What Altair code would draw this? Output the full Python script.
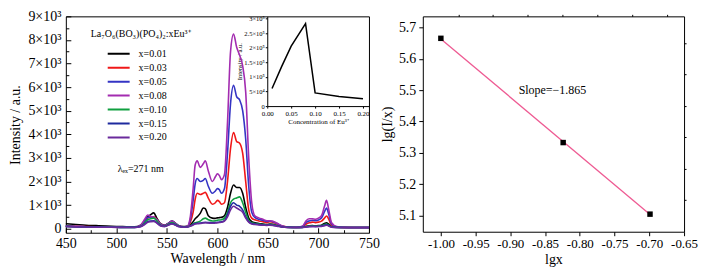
import altair as alt
import pandas as pd

SERIF = "Liberation Serif"

# ---------------- data ----------------
wavelength = [450, 460, 470, 480, 490, 500, 510,
              518, 524, 528, 531, 534, 537, 540,
              544, 548, 552, 555, 558, 562, 566, 570,
              573, 576, 578, 580, 583, 586, 588, 591,
              595, 598, 600, 602, 604, 607, 610, 613,
              616, 619, 622, 625, 628, 631, 634, 637,
              641, 645, 649, 652, 655, 659, 664, 670,
              678, 684, 688, 691, 694, 697, 700, 703,
              706, 708, 710, 713, 718, 725, 735, 750]

int_x001 = [210, 180, 150, 130, 110, 95, 85,
            80, 150, 350, 500, 600, 670, 450,
            200, 150, 250, 330, 250, 120, 90, 100,
            150, 300, 420, 500, 650, 880, 850, 550,
            450, 440, 460, 470, 480, 550, 900, 1500,
            1850, 1750, 1750, 1500, 900, 450, 300, 250,
            220, 200, 180, 200, 190, 140, 90, 60,
            50, 60, 100, 120, 130, 120, 130, 150,
            220, 250, 200, 100, 60, 50, 50, 50]

int_x003 = [120, 100, 90, 80, 70, 65, 60,
            60, 120, 300, 450, 480, 500, 400,
            180, 130, 230, 300, 230, 110, 80, 90,
            250, 700, 1250, 1500, 1450, 1500, 1540, 1300,
            1040, 1100, 1200, 1150, 1040, 1100, 2000, 3400,
            4080, 3700, 3625, 3200, 2000, 800, 450, 380,
            330, 300, 260, 300, 280, 200, 110, 70,
            60, 80, 200, 250, 280, 260, 280, 320,
            450, 540, 420, 150, 70, 55, 50, 50]

int_x005 = [110, 95, 85, 75, 70, 65, 60,
            60, 130, 320, 480, 500, 480, 380,
            180, 130, 240, 310, 240, 110, 80, 90,
            350, 1200, 1900, 2125, 2000, 2050, 2125, 1800,
            1500, 1600, 1700, 1650, 1500, 1700, 3200, 5300,
            6080, 5600, 5460, 5000, 3800, 1800, 700, 480,
            400, 360, 310, 330, 300, 220, 120, 70,
            60, 90, 280, 330, 360, 340, 370, 450,
            720, 875, 650, 200, 80, 60, 50, 50]

int_x008 = [110, 95, 85, 75, 70, 65, 60,
            60, 150, 400, 580, 520, 500, 380,
            180, 130, 240, 320, 240, 110, 80, 90,
            450, 1700, 2700, 2875, 2600, 2750, 2875, 2450,
            2000, 2200, 2330, 2250, 2080, 2300, 4500, 7500,
            8250, 7700, 7350, 6900, 5800, 3000, 1100, 550,
            460, 400, 340, 340, 320, 230, 120, 70,
            60, 100, 350, 420, 420, 400, 450, 550,
            950, 1200, 850, 250, 90, 60, 50, 50]

int_x010 = [100, 85, 75, 70, 65, 60, 55,
            55, 100, 250, 380, 420, 450, 330,
            150, 110, 200, 260, 200, 100, 75, 80,
            120, 200, 250, 270, 320, 420, 450, 380,
            330, 340, 360, 370, 380, 450, 700, 1100,
            1250, 1300, 1350, 1100, 700, 350, 250, 220,
            200, 180, 160, 180, 170, 130, 80, 55,
            50, 55, 90, 110, 120, 110, 120, 130,
            180, 200, 160, 80, 55, 50, 50, 50]

int_x015 = [100, 85, 75, 70, 65, 60, 55,
            55, 90, 200, 300, 330, 340, 260,
            130, 100, 170, 220, 170, 90, 70, 75,
            110, 180, 220, 230, 240, 260, 270, 260,
            250, 260, 270, 280, 290, 350, 600, 950,
            1100, 1000, 950, 800, 500, 300, 220, 200,
            180, 160, 150, 160, 150, 120, 75, 55,
            50, 55, 80, 95, 100, 95, 100, 110,
            150, 170, 140, 70, 55, 50, 50, 50]

int_x020 = [95, 80, 72, 68, 62, 58, 52,
            52, 85, 180, 270, 300, 310, 240,
            120, 95, 160, 200, 160, 85, 65, 70,
            100, 160, 200, 210, 220, 240, 250, 240,
            230, 240, 250, 260, 270, 320, 500, 800,
            950, 880, 800, 700, 450, 280, 200, 180,
            160, 150, 140, 150, 140, 110, 70, 50,
            45, 50, 75, 90, 95, 90, 95, 100,
            130, 150, 120, 65, 50, 45, 45, 45]

series_labels = ["x=0.01", "x=0.03", "x=0.05", "x=0.08", "x=0.10", "x=0.15", "x=0.20"]
series_values = [int_x001, int_x003, int_x005, int_x008, int_x010, int_x015, int_x020]
series_colors = ["#000000", "#f01818", "#3434c4", "#a32cb0", "#10a040", "#1e2a9e", "#6a2a9c"]

inset_conc = [0.01, 0.03, 0.05, 0.08, 0.10, 0.15, 0.20]
inset_intensity = [60000, 135000, 205000, 282000, 45000, 33000, 25000]

lg_x = [-1.000, -0.824, -0.699]
lg_ix = [5.665, 5.333, 5.105]
fit_lgx = [-1.000, -0.699]
fit_lgix = [5.663, 5.104]

# tick values
x_major = [450, 500, 550, 600, 650, 700, 750]
x_minor = [475, 525, 575, 625, 675, 725]
y_major = [0, 1000, 2000, 3000, 4000, 5000, 6000, 7000, 8000, 9000]
y_minor = [500, 1500, 2500, 3500, 4500, 5500, 6500, 7500, 8500]
inset_x_ticks = [0.0, 0.05, 0.10, 0.15, 0.20]
inset_y_ticks = [0, 50000, 100000, 150000, 200000, 250000, 300000]
rx_major = [-1.00, -0.95, -0.90, -0.85, -0.80, -0.75, -0.70, -0.65]
rx_minor = [-0.975, -0.925, -0.875, -0.825, -0.775, -0.725, -0.675]
ry_major = [5.1, 5.2, 5.3, 5.4, 5.5, 5.6, 5.7]
ry_minor = [5.15, 5.25, 5.35, 5.45, 5.55, 5.65]

# ---------------- tables ----------------
rows = []
for lab, vals in zip(series_labels, series_values):
    for w, v in zip(wavelength, vals):
        rows.append({"wavelength": w, "intensity": v, "sample": lab})
spec_df = pd.DataFrame(rows)
inset_df = pd.DataFrame({"conc": inset_conc, "inten": inset_intensity})
lg_df = pd.DataFrame({"lgx": lg_x, "lgI": lg_ix})
fit_df = pd.DataFrame({"lgx": fit_lgx, "lgI": fit_lgix})

W1, H1 = 304, 217
W2, H2 = 262, 216

x_main = alt.Scale(domain=[450, 750], nice=False, zero=False)
y_main = alt.Scale(domain=[-170, 9000], nice=False, zero=False)

lines = alt.Chart(spec_df).mark_line(strokeWidth=1.6, interpolate="monotone").encode(
    x=alt.X("wavelength:Q", scale=x_main,
            axis=alt.Axis(values=x_major, title="Wavelength / nm", labelFontSize=14,
                          titleFontSize=14, tickSize=0, labelPadding=4, titlePadding=1,
                          domain=False, labelOverlap=False, labelFlush=False)),
    y=alt.Y("intensity:Q", scale=y_main,
            axis=alt.Axis(values=y_major,
                          labelExpr="datum.value == 0 ? '0' : (datum.value / 1000) + '×10³'",
                          title="Intensity / a.u.", labelFontSize=14, titleFontSize=14,
                          tickSize=0, labelPadding=5, titlePadding=5, domain=False,
                          labelOverlap=False)),
    color=alt.Color("sample:N", sort=series_labels,
                    scale=alt.Scale(domain=series_labels, range=series_colors),
                    legend=alt.Legend(title=None, orient="none", legendX=41, legendY=31,
                                      symbolType="stroke", symbolSize=484,
                                      symbolStrokeWidth=2, labelFontSize=10,
                                      labelFont=SERIF, labelOffset=8, rowPadding=1,
                                      clipHeight=13)),
)

tick_major = alt.Chart(spec_df).mark_point(opacity=0).encode(
    x=alt.X("wavelength:Q", scale=x_main,
            axis=alt.Axis(orient="top", offset=-H1, values=x_major, labels=False,
                          tickSize=5, domain=False, title=None)),
    y=alt.Y("intensity:Q", scale=y_main,
            axis=alt.Axis(orient="right", offset=-W1, values=y_major, labels=False,
                          tickSize=5, domain=False, title=None)),
)
tick_minor = alt.Chart(spec_df).mark_point(opacity=0).encode(
    x=alt.X("wavelength:Q", scale=x_main,
            axis=alt.Axis(orient="top", offset=-H1, values=x_minor, labels=False,
                          tickSize=3, domain=False, title=None)),
    y=alt.Y("intensity:Q", scale=y_main,
            axis=alt.Axis(orient="right", offset=-W1, values=y_minor, labels=False,
                          tickSize=3, domain=False, title=None)),
)

inset = alt.Chart(inset_df).mark_line(color="black", strokeWidth=1.5).encode(
    x=alt.X("conc:Q", scale=alt.Scale(domain=[0, 0.2125], range=[202, W1], nice=False, zero=False),
            axis=alt.Axis(orient="bottom", offset=-127, values=inset_x_ticks, format=".2f",
                          title="Concentration of Eu³⁺", labelFontSize=7, titleFontSize=7,
                          tickSize=2, labelPadding=1, titlePadding=1, domain=True,
                          domainColor="black", labelOverlap=False, labelFlush=False)),
    y=alt.Y("inten:Q", scale=alt.Scale(domain=[0, 307000], range=[90, 0], nice=False, zero=False),
            axis=alt.Axis(orient="left", offset=-202, values=inset_y_ticks,
                          labelExpr="datum.value == 0 ? '0' : (datum.value < 100000 ? (datum.value / 10000) + '×10⁴' : (datum.value / 100000) + '×10⁵')",
                          title="Intensity / a.u.", labelFontSize=6.5, titleFontSize=6.5,
                          tickSize=2, labelPadding=1, titlePadding=1, domain=True,
                          domainColor="black", labelOverlap=False)),
)

legend_title = alt.Chart(pd.DataFrame({"t": ["La₇O₆(BO₃)(PO₄)₂:xEu³⁺"]})).mark_text(
    align="left", baseline="middle", fontSize=10, font=SERIF, color="black"
).encode(text="t:N", x=alt.value(25), y=alt.value(18))

lambda_text = alt.Chart(pd.DataFrame({"t": ["λₑₓ=271 nm"]})).mark_text(
    align="left", baseline="middle", fontSize=10, font=SERIF, color="black"
).encode(text="t:N", x=alt.value(52), y=alt.value(153))

left = alt.layer(lines, tick_major, tick_minor, inset, legend_title, lambda_text).resolve_scale(
    x="independent", y="independent"
).properties(width=W1, height=H1)

x_r = alt.Scale(domain=[-1.026, -0.65], nice=False, zero=False)
y_r = alt.Scale(domain=[5.049, 5.735], nice=False, zero=False)

fit = alt.Chart(fit_df).mark_line(color="#ee5b93", strokeWidth=1.3).encode(
    x=alt.X("lgx:Q", scale=x_r,
            axis=alt.Axis(values=rx_major,
                          labelExpr="replace(format(datum.value, '.2f'), '−', '-')",
                          title="lgx", labelFontSize=13, titleFontSize=14, tickSize=4,
                          labelPadding=2, titlePadding=2, domain=False, labelOverlap=False,
                          labelFlush=False)),
    y=alt.Y("lgI:Q", scale=y_r,
            axis=alt.Axis(values=ry_major, format=".1f", title="lg(I/x)", labelFontSize=14,
                          titleFontSize=14, tickSize=4, labelPadding=3, titlePadding=4,
                          domain=False, labelOverlap=False)),
)
pts = alt.Chart(lg_df).mark_square(size=30, color="black", opacity=1).encode(
    x=alt.X("lgx:Q", scale=x_r, axis=None),
    y=alt.Y("lgI:Q", scale=y_r, axis=None),
)
minor_r = alt.Chart(lg_df).mark_point(opacity=0).encode(
    x=alt.X("lgx:Q", scale=x_r,
            axis=alt.Axis(values=rx_minor, labels=False, tickSize=2, domain=False, title=None)),
    y=alt.Y("lgI:Q", scale=y_r,
            axis=alt.Axis(values=ry_minor, labels=False, tickSize=2, domain=False, title=None)),
)
slope_text = alt.Chart(pd.DataFrame({"t": ["Slope=−1.865"]})).mark_text(
    align="center", baseline="middle", fontSize=12, font=SERIF, color="black"
).encode(text="t:N", x=alt.value(130), y=alt.value(74))

right = alt.layer(fit, pts, minor_r, slope_text).resolve_axis(
    x="independent", y="independent"
).properties(width=W2, height=H2)

chart = alt.hconcat(left, right, spacing=0).properties(
    padding={"left": 0, "top": 0, "right": 5, "bottom": 0}, background="white"
).configure_view(stroke="black", strokeWidth=1).configure_axis(
    labelFont=SERIF, titleFont=SERIF, titleFontWeight="normal", grid=False,
    labelColor="black", titleColor="black", tickColor="black", domainColor="black"
)

chart.save("out.html", embed_options={"renderer": "svg", "actions": False})
